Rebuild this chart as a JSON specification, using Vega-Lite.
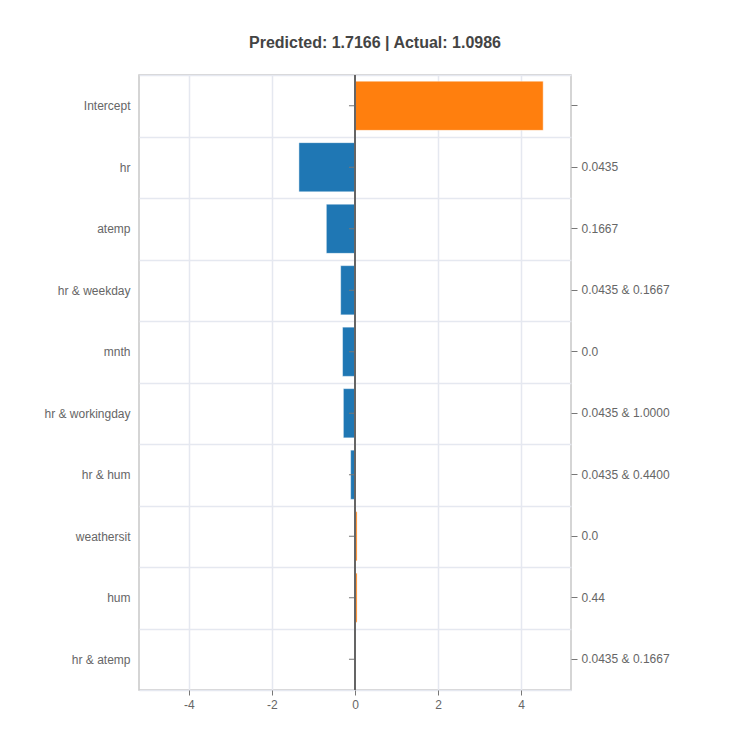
{
  "$schema": "https://vega.github.io/schema/vega-lite/v6.json",
  "width": 432,
  "height": 615,
  "autosize": "none",
  "padding": {"left": 139, "top": 75, "right": 179, "bottom": 60},
  "background": "white",
  "title": {
    "text": "Predicted: 1.7166 | Actual: 1.0986",
    "font": "Liberation Sans",
    "fontSize": 16,
    "fontWeight": "bold",
    "color": "#444444",
    "anchor": "middle",
    "dx": 20,
    "offset": 18
  },
  "config": {
    "font": "Liberation Sans",
    "view": {"stroke": "#c8c8c8", "strokeWidth": 1.5},
    "axis": {
      "labelFont": "Liberation Sans",
      "labelFontSize": 12,
      "labelColor": "#666666",
      "tickColor": "#777777",
      "gridColor": "#e5e8f0",
      "gridWidth": 1.5
    }
  },
  "data": {
    "values": [
      {"feature": "Intercept", "fvalue": "", "contribution": 4.53},
      {"feature": "hr", "fvalue": "0.0435", "contribution": -1.35},
      {"feature": "atemp", "fvalue": "0.1667", "contribution": -0.69},
      {"feature": "hr & weekday", "fvalue": "0.0435 & 0.1667", "contribution": -0.345},
      {"feature": "mnth", "fvalue": "0.0", "contribution": -0.30},
      {"feature": "hr & workingday", "fvalue": "0.0435 & 1.0000", "contribution": -0.28},
      {"feature": "hr & hum", "fvalue": "0.0435 & 0.4400", "contribution": -0.105},
      {"feature": "weathersit", "fvalue": "0.0", "contribution": 0.05},
      {"feature": "hum", "fvalue": "0.44", "contribution": 0.05},
      {"feature": "hr & atemp", "fvalue": "0.0435 & 0.1667", "contribution": 0.01}
    ]
  },
  "transform": [
    {"calculate": "datum.feature + '|' + datum.fvalue", "as": "key"}
  ],
  "layer": [
    {
      "mark": {"type": "bar", "height": {"band": 0.8}, "stroke": "white", "strokeWidth": 1, "strokeOpacity": 0.45},
      "encoding": {
        "x": {
          "field": "contribution",
          "type": "quantitative",
          "scale": {"domain": [-5.2, 5.2], "nice": false, "zero": false},
          "axis": {
            "title": null,
            "values": [-4, -2, 0, 2, 4],
            "labelExpr": "'' + datum.value",
            "grid": true,
            "gridColor": {"condition": {"test": "datum.value === 0", "value": "transparent"}, "value": "#e5e8f0"},
            "domain": false,
            "tickSize": 5,
            "labelPadding": 4
          }
        },
        "y": {
          "field": "key",
          "type": "nominal",
          "sort": null,
          "scale": {"paddingInner": 0, "paddingOuter": 0},
          "axis": {
            "title": null,
            "orient": "left",
            "labelExpr": "datum.value ? split(datum.value, '|')[0] : ''",
            "ticks": false,
            "domain": false,
            "grid": true,
            "tickBand": "extent",
            "labelPadding": 9
          }
        },
        "color": {
          "condition": {"test": "datum.contribution >= 0", "value": "#ff7f0e"},
          "value": "#1f77b4"
        }
      }
    },
    {
      "mark": {"type": "rule", "color": "#777777", "strokeWidth": 1},
      "encoding": {
        "x": {"datum": -0.145, "type": "quantitative"},
        "x2": {"datum": 0},
        "y": {
          "field": "key",
          "type": "nominal",
          "sort": null,
          "axis": {
            "title": null,
            "orient": "right",
            "labelExpr": "datum.value ? split(datum.value, '|')[1] : ''",
            "domain": false,
            "grid": false,
            "tickSize": 6,
            "labelPadding": 4
          }
        }
      }
    },
    {
      "mark": {"type": "rule", "color": "#666666", "strokeWidth": 1.5},
      "encoding": {
        "x": {"datum": 0, "type": "quantitative"}
      }
    }
  ],
  "resolve": {"axis": {"y": "independent"}}
}
